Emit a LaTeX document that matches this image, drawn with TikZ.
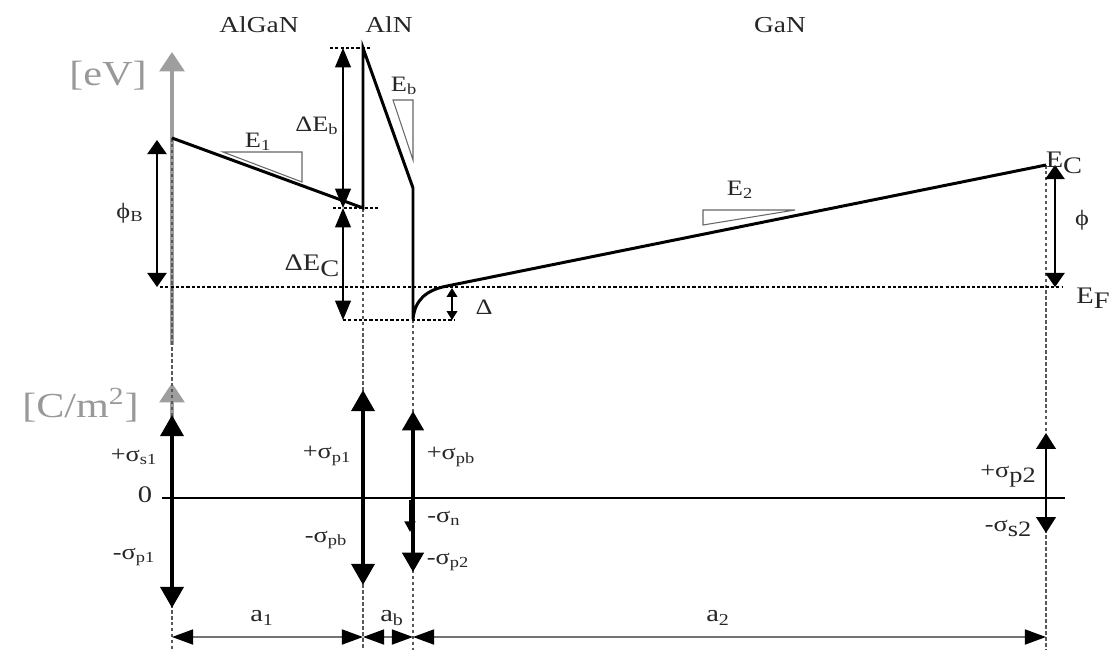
\documentclass[tikz,border=0pt]{standalone}
\usepackage{fontspec}
\setmainfont{Liberation Serif}[FakeStretch=1.2]
\usetikzlibrary{arrows.meta}

\begin{document}
\begin{tikzpicture}[x=0.2mm,y=-0.2mm,
  band/.style={line width=1.7pt,line join=miter},
  level/.style={line width=1.3pt,dash pattern=on 1.8pt off 1.2pt},
  guide/.style={line width=0.8pt,black!65,dash pattern=on 2pt off 1.4pt},
  axis/.style={line width=2.3pt,black!38,-{Triangle[width=14pt,length=11pt]}},
  charge/.style={line width=2.3pt,{Triangle[width=13pt,length=12pt]}-{Triangle[width=13pt,length=12pt]}},
  charge1/.style={line width=2.3pt,-{Triangle[width=12pt,length=11pt]}},
  charge2/.style={line width=1.4pt,-{Triangle[width=11pt,length=9pt]}},
  gap/.style={line width=0.8pt,{Triangle[width=9pt,length=11pt]}-{Triangle[width=9pt,length=11pt]}},
  pot/.style={line width=0.8pt,{Triangle[width=11pt,length=8pt]}-{Triangle[width=11pt,length=8pt]}},
  dim/.style={line width=1.1pt,black!55,{Triangle[width=8.5pt,length=12pt,color=black]}-{Triangle[width=8.5pt,length=12pt,color=black]}},
  slope/.style={draw=black!60,line width=0.6pt},
  layer/.style={font=\fontsize{13}{15}\selectfont,text=black!85,inner sep=0pt},
  lbl/.style={font=\fontsize{12.5}{15}\selectfont,text=black!85,inner sep=0pt},
  big/.style={font=\fontsize{13.5}{16}\selectfont,text=black!85,inner sep=0pt},
  unit/.style={font=\fontsize{20}{24}\selectfont,text=black!40,inner sep=0pt}]
\useasboundingbox (0,0) rectangle (1110,650);

% band edge
\coordinate (b1) at (172,138);
\coordinate (b2) at (363,208);
\coordinate (b3) at (363,48);
\coordinate (b4) at (413,188);
\coordinate (b5) at (413,319);
\coordinate (b6) at (447,286);
\coordinate (b7) at (1046,165);

% axes and guides
\draw[axis] (172,345) -- (172,52);
\draw[axis] (172,498) -- (172,383);
\draw[guide] (b1) -- (172,650);
\draw[guide] (b2) -- (363,650);
\draw[guide] (b5) -- (413,650);
\draw[guide] (b7) -- (1046,650);

% levels
\draw[level] (330,48) -- (372,48);
\draw[level] (333,208) -- (378,208);
\draw[level] (160,287) -- (1062,287);
\draw[level] (343,320) -- (455,320);

\draw[band] (b1) -- (b2) -- (b3) -- (b4) -- (b5)
  .. controls (415,300) and (426,290) .. (b6) -- (b7);

% field triangles
\draw[slope] (223,152) -- (302,152) -- (302,182) -- cycle;
\draw[slope] (393,100) -- (413,100) -- (413,160) -- cycle;
\draw[slope] (703,210) -- (795,210) -- (703,225) -- cycle;

% energy arrows
\draw[pot] (157,140) -- (157,287);
\draw[gap] (343,48) -- (343,208);
\draw[gap] (343,208) -- (343,320);
\draw[line width=0.8pt,{Triangle[width=6pt,length=5pt]}-{Triangle[width=6pt,length=5pt]}] (452,288) -- (452,320);
\draw[pot] (1055,165) -- (1055,287);

% charges
\draw[line width=0.6pt] (162,498) -- (1065,498);
\draw[charge] (172,608) -- (172,415);
\draw[charge] (363,585) -- (363,390);
\draw[charge1] (413,498) -- (413,411);
\draw[charge1] (413,498) -- (413,572);
\draw[line width=1.6pt,-{Triangle[width=6pt,length=6pt]}] (410,500) -- (410,532);
\draw[charge2] (1046,498) -- (1046,433);
\draw[charge2] (1046,498) -- (1046,533);

% thicknesses
\draw[dim] (172,637) -- (363,637);
\draw[dim] (363,637) -- (413,637);
\draw[dim] (413,637) -- (1046,637);

% labels
\node[layer] (nAlGaN) at (259,25) {AlGaN};
\node[layer] (nAlN) at (389,25) {AlN};
\node[layer] (nGaN) at (780,25) {GaN};
\node[unit,anchor=east] (ueV) at (147,76) {[eV]};
\node[unit,anchor=east] (uC) at (139,405) {[C/m\textsuperscript{2}]};
\node[lbl] (lphiB) at (130,213) {ϕ\textsubscript{B}};
\node[lbl] (lE1) at (258,142) {E\textsubscript{1}};
\node[lbl] (ldEb) at (317,126) {ΔE\textsubscript{b}};
\node[lbl] (lEb) at (404,86) {E\textsubscript{b}};
\node[big] (ldEc) at (312,266) {ΔE\raisebox{-0.55ex}{C}};
\node[lbl] (lD) at (484,307) {Δ};
\node[lbl] (lE2) at (740,190) {E\textsubscript{2}};
\node[big] (lEc) at (1064,163) {E\raisebox{-0.5ex}{C}};
\node[lbl] (lphi) at (1082,220) {ϕ};
\node[big] (lEf) at (1093,298) {E\raisebox{-0.5ex}{F}};
\node[lbl] (ls1) at (134,457) {+σ\textsubscript{s1}};
\node[big] (lzero) at (145,495) {0};
\node[lbl] (lp1m) at (134,557) {-σ\textsubscript{p1}};
\node[lbl] (lp1) at (327,456) {+σ\textsubscript{p1}};
\node[lbl] (lpbm) at (326,540) {-σ\textsubscript{pb}};
\node[lbl] (lpb) at (451,457) {+σ\textsubscript{pb}};
\node[lbl] (ln) at (444,518) {-σ\textsubscript{n}};
\node[lbl] (lp2m) at (448,562) {-σ\textsubscript{p2}};
\node[lbl] (lp2) at (1008,476) {+σ\raisebox{-0.5ex}{p2}};
\node[lbl] (ls2) at (1008,528) {-σ\raisebox{-0.5ex}{s2}};
\node[big] (la1) at (262,618) {a\textsubscript{1}};
\node[big] (lab) at (392,618) {a\textsubscript{b}};
\node[big] (la2) at (718,618) {a\textsubscript{2}};
\end{tikzpicture}
\end{document}
